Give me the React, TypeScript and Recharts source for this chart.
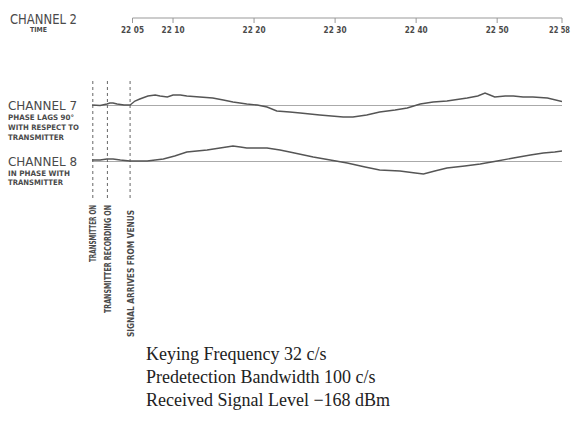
import { LineChart, Line, XAxis, YAxis, ReferenceLine } from 'recharts'

// minutes after 22:00
const timeTicks = [5, 10, 20, 30, 40, 50, 58]
const timeLabels = ['22 05', '22 10', '22 20', '22 30', '22 40', '22 50', '22 58']

const eventTimes = [0.1, 1.9, 4.7]
const eventLabels = ['TRANSMITTER ON', 'TRANSMITTER RECORDING ON', 'SIGNAL ARRIVES FROM VENUS']
const eventLabelLen = [57, 108, 127]

// channel 7 (phase lags 90°), deflection from baseline
const ch7Time = [0, 1, 1.85, 2.2, 2.6, 3.1, 3.95, 4.7, 5.3, 5.9, 6.9, 7.8, 8.4, 9.3, 10, 10.9, 11.7, 13.3, 14.9, 16.2, 17.4, 19.1, 20.4, 21.6, 22.8, 24.4, 25.7, 28.1, 31, 32.2, 33.9, 35.5, 37.4, 38.9, 40.5, 42.1, 43.8, 46.3, 47.6, 48.5, 49.1, 49.7, 51, 52, 53.2, 54.4, 56.2, 58]
const ch7Level = [0.5, 0, 1.5, 2.5, 2.5, 1.5, 0.5, 0.5, 4.5, 6.5, 9.5, 10.5, 9.5, 8.5, 10.5, 10.5, 9.5, 8.5, 7.5, 5.5, 3.5, 1.5, 0.5, -1.5, -5.5, -6.5, -7.5, -9.5, -11.5, -11.5, -9.5, -6.5, -4.5, -2.5, 1.5, 3.5, 4.5, 7.5, 9.5, 12.5, 10.5, 8.5, 9.5, 9.5, 8.5, 8.5, 7.5, 4]

// channel 8 (in phase), deflection from baseline
const ch8Time = [0, 1, 1.85, 2.6, 3.5, 4.7, 6.8, 8.8, 10.2, 11.7, 14.2, 15.8, 17.4, 18.3, 19.1, 21.6, 23.2, 24.4, 27.3, 29.4, 31.5, 33.7, 35.5, 38, 39.9, 40.9, 42.3, 43.8, 46, 47.9, 50, 52, 54.1, 55.7, 57.1, 58]
const ch8Level = [1.5, 1.5, 2.5, 2.5, 1.5, 0.5, 0.5, 2.5, 5.5, 9.5, 11.5, 13.5, 15.5, 14.5, 13.5, 13.5, 11.5, 9.5, 4.5, 1.5, -1.5, -5.5, -8.5, -9.5, -11.5, -12.5, -9.5, -6.5, -4.5, -2.5, 0.5, 3.5, 6.5, 8.5, 9.5, 10.5]

const ch7Data = ch7Time.map((t, i) => ({ t, v: ch7Level[i] }))
const ch8Data = ch8Time.map((t, i) => ({ t, v: ch8Level[i] }))
const timeData = timeTicks.map((t) => ({ t }))

const SANS = 'DejaVu Sans Condensed, DejaVu Sans, sans-serif'
const INK = '#4a4a4a'

function TimeTick(props: any) {
  const { x, y, payload } = props
  const idx = timeTicks.indexOf(payload.value)
  const last = idx === timeTicks.length - 1
  return (
    <text x={last ? x + 8 : x} y={y + 8} textAnchor={last ? 'end' : 'middle'} fontFamily={SANS}
      fontSize={last ? 8.5 : 9.5} fontWeight="bold" fill={INK} textLength={last ? 21 : 23}
      lengthAdjust="spacingAndGlyphs">
      {timeLabels[idx]}
    </text>
  )
}

function EventLabel(props: any) {
  const { viewBox, idx } = props
  const x = viewBox.x + 3.5
  const y = viewBox.y + viewBox.height + 7 + (idx === 2 ? 5 : 0)
  return (
    <text x={x} y={y} transform={`rotate(-90 ${x} ${y})`} textAnchor="end" fontFamily={SANS} fontSize={8}
      fontWeight="bold" fill={INK} textLength={eventLabelLen[idx]} lengthAdjust="spacingAndGlyphs">
      {eventLabels[idx]}
    </text>
  )
}

function SideLabel({ x, y, w, size, bold, children }: any) {
  return (
    <text x={x} y={y} fontFamily={SANS} fontSize={size} fontWeight={bold ? 'bold' : 'normal'} fill={INK}
      textLength={w} lengthAdjust="spacingAndGlyphs">
      {children}
    </text>
  )
}

export default function App() {
  return (
    <div style={{ position: 'absolute', left: 0, top: 0, width: 572, height: 427, background: '#fff' }}>
      {/* time axis */}
      <div style={{ position: 'absolute', left: 0, top: 0 }}>
        <LineChart width={572} height={46} data={timeData} margin={{ top: 17, right: 10, bottom: 0, left: 132.5 }}>
          <XAxis type="number" dataKey="t" domain={[5, 58]} ticks={timeTicks} height={28} tickSize={5}
            stroke="#999" tick={<TimeTick />} interval={0} />
        </LineChart>
      </div>

      {/* traces */}
      <div style={{ position: 'absolute', left: 0, top: 0 }}>
        <LineChart width={572} height={427} margin={{ top: 78, right: 10, bottom: 229, left: 92 }}>
          <XAxis type="number" dataKey="t" domain={[0, 58]} hide allowDataOverflow />
          <YAxis yAxisId="c7" type="number" domain={[-92.5, 27.5]} hide allowDataOverflow />
          <YAxis yAxisId="c8" type="number" domain={[-36.5, 83.5]} hide allowDataOverflow />
          <ReferenceLine yAxisId="c7" y={0} stroke="#aaa" strokeWidth={1.2} />
          <ReferenceLine yAxisId="c8" y={0} stroke="#aaa" strokeWidth={1.2} />
          {eventTimes.map((t, i) => (
            <ReferenceLine key={i} yAxisId="c7" x={t} stroke="#666" strokeDasharray="3 3"
              label={<EventLabel idx={i} />} />
          ))}
          <Line yAxisId="c7" data={ch7Data} dataKey="v" type="linear" stroke="#555" strokeWidth={1.4}
            dot={false} isAnimationActive={false} />
          <Line yAxisId="c8" data={ch8Data} dataKey="v" type="linear" stroke="#555" strokeWidth={1.4}
            dot={false} isAnimationActive={false} />
        </LineChart>
      </div>

      {/* labels */}
      <svg width={572} height={427} style={{ position: 'absolute', left: 0, top: 0, pointerEvents: 'none' }}>
        <SideLabel x={10} y={23.5} w={67} size={13.5}>CHANNEL 2</SideLabel>
        <SideLabel x={30} y={32} w={17} size={7} bold>TIME</SideLabel>

        <SideLabel x={8} y={110} w={69} size={12}>CHANNEL 7</SideLabel>
        <SideLabel x={8} y={119.5} w={66} size={7.5} bold>PHASE LAGS 90°</SideLabel>
        <SideLabel x={8} y={129.5} w={71} size={7.5} bold>WITH RESPECT TO</SideLabel>
        <SideLabel x={8} y={139.5} w={56} size={7.5} bold>TRANSMITTER</SideLabel>

        <SideLabel x={8} y={166} w={69} size={12}>CHANNEL 8</SideLabel>
        <SideLabel x={8} y={175.5} w={62} size={7.5} bold>IN PHASE WITH</SideLabel>
        <SideLabel x={8} y={184.5} w={55} size={7.5} bold>TRANSMITTER</SideLabel>

        <g fontFamily="Liberation Serif, Times New Roman, serif" fontSize={18} fill="#222">
          <text x={146} y={360}>Keying Frequency 32 c/s</text>
          <text x={146} y={383}>Predetection Bandwidth 100 c/s</text>
          <text x={146} y={406}>Received Signal Level −168 dBm</text>
        </g>
      </svg>
    </div>
  )
}
